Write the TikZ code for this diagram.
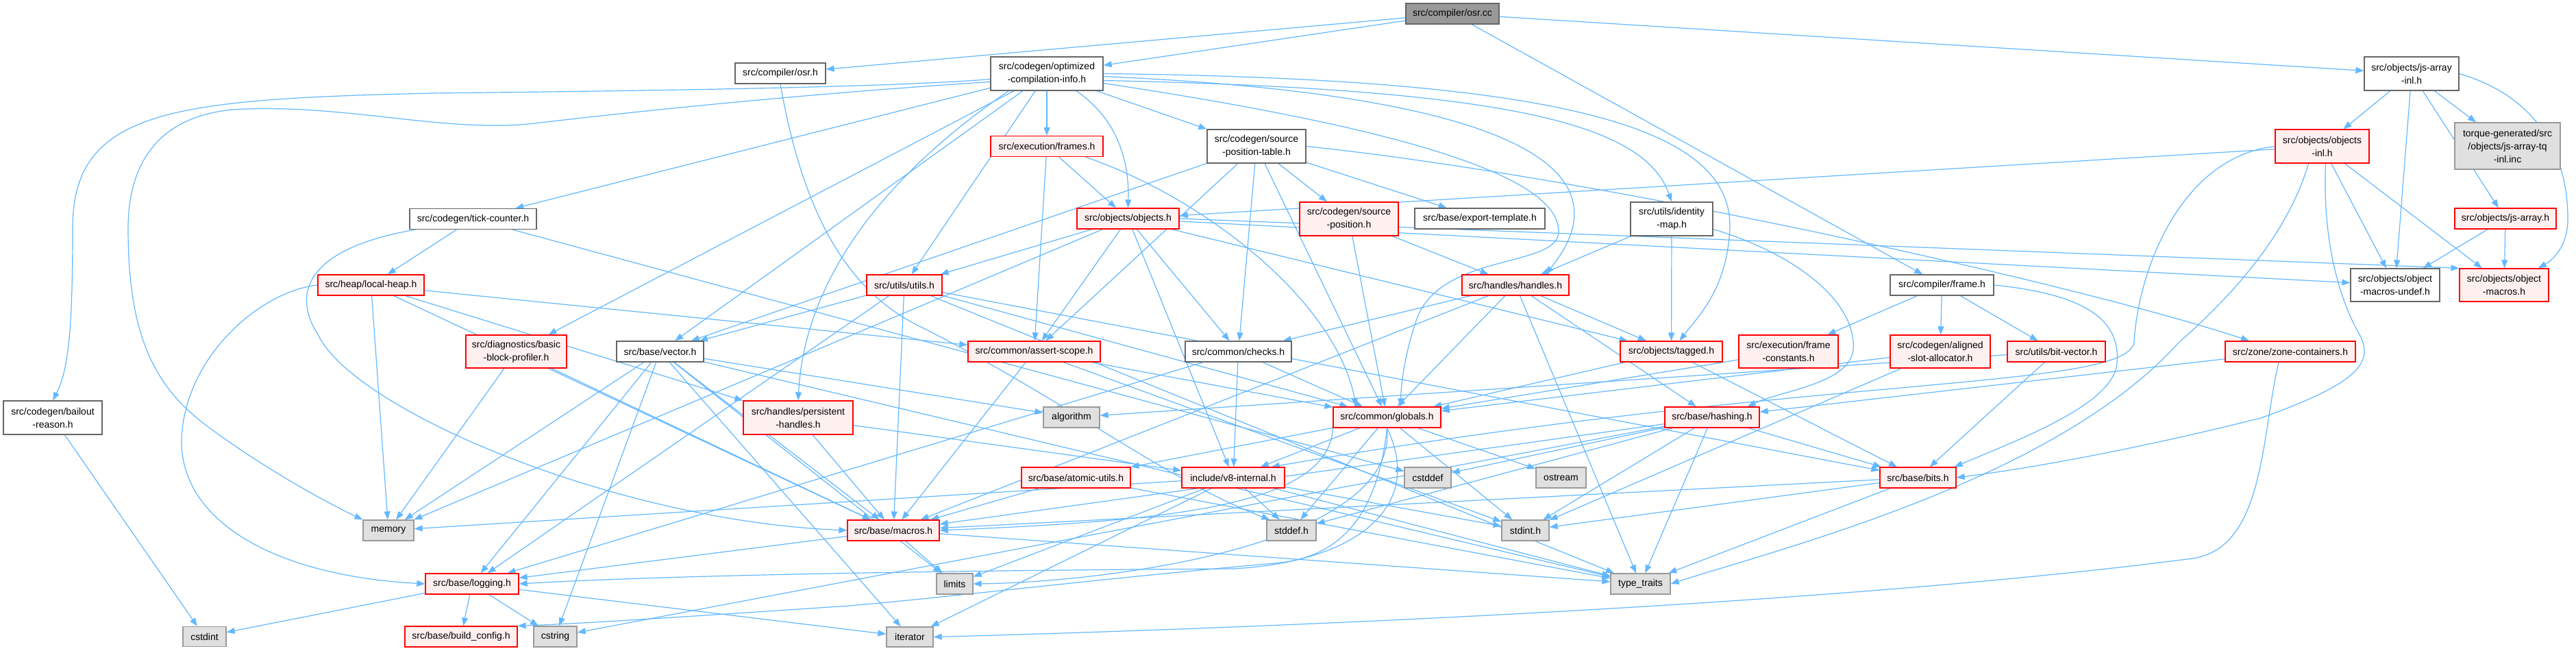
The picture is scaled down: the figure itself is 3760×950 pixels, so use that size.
\documentclass[tikz,border=0pt]{standalone}
\usepackage{fontspec}
\setmainfont{Liberation Sans}
\usetikzlibrary{arrows.meta,calc}
\definecolor{edgeblue}{HTML}{63B8FF}
\definecolor{redfill}{HTML}{FFF0F0}
\definecolor{grayfill}{HTML}{E0E0E0}
\definecolor{rootfill}{HTML}{999999}
\definecolor{bordergray}{HTML}{666666}
\definecolor{leafborder}{HTML}{999999}
\pgfdeclarelayer{background}
\pgfsetlayers{background,main}
\begin{document}
\begin{tikzpicture}[x=1pt,y=-1pt,
  box/.style={draw, rectangle, inner sep=0pt, align=center, font=\fontsize{14}{19}\selectfont, line width=1.3pt},
  wbox/.style={box, fill=white, draw=bordergray},
  rbox/.style={box, fill=redfill, draw=red},
  gbox/.style={box, fill=grayfill, draw=leafborder},
  rootbox/.style={box, fill=rootfill, draw=bordergray},
  edge/.style={draw=edgeblue, line width=1.2pt, -{Triangle[length=12pt,width=9pt]}},
]
\useasboundingbox (0,0) rectangle (3760,950);
% row 1
\node[rootbox,minimum width=136pt,minimum height=30pt] (osrcc) at (2120,20) {src/compiler/osr.cc};
% row 2
\node[wbox,minimum width=132pt,minimum height=30pt] (osrh) at (1139,107) {src/compiler/osr.h};
\node[wbox,minimum width=164pt,minimum height=49pt] (oci) at (1528,107.5) {src/codegen/optimized\\-compilation-info.h};
\node[wbox,minimum width=138pt,minimum height=49pt] (jsai) at (3520,107.5) {src/objects/js-array\\-inl.h};
% row 3
\node[rbox,minimum width=164pt,minimum height=30pt] (frames) at (1528,213.5) {src/execution/frames.h};
\node[wbox,minimum width=144pt,minimum height=49pt] (spt) at (1834,213.5) {src/codegen/source\\-position-table.h};
\node[rbox,minimum width=137pt,minimum height=49pt] (objinl) at (3389.5,213.5) {src/objects/objects\\-inl.h};
\node[gbox,minimum width=154pt,minimum height=68pt] (torque) at (3660,213) {torque-generated/src\\/objects/js-array-tq\\-inl.inc};
% row 4
\node[wbox,minimum width=185pt,minimum height=30pt] (tick) at (690.5,319.5) {src/codegen/tick-counter.h};
\node[rbox,minimum width=149pt,minimum height=30pt] (objects) at (1646.5,319) {src/objects/objects.h};
\node[rbox,minimum width=144pt,minimum height=49pt] (spos) at (1969,319.5) {src/codegen/source\\-position.h};
\node[wbox,minimum width=190pt,minimum height=30pt] (exptpl) at (2160,319) {src/base/export-template.h};
\node[wbox,minimum width=120pt,minimum height=49pt] (idmap) at (2440,319.5) {src/utils/identity\\-map.h};
\node[rbox,minimum width=148pt,minimum height=30pt] (jsarray) at (3657,319) {src/objects/js-array.h};
% row 5
\node[rbox,minimum width=155pt,minimum height=30pt] (localheap) at (541.5,416) {src/heap/local-heap.h};
\node[rbox,minimum width=110pt,minimum height=30pt] (utils) at (1320,416) {src/utils/utils.h};
\node[rbox,minimum width=156pt,minimum height=30pt] (handles) at (2212,416) {src/handles/handles.h};
\node[wbox,minimum width=151pt,minimum height=30pt] (frame) at (2834.5,416) {src/compiler/frame.h};
\node[wbox,minimum width=130pt,minimum height=48pt] (oundef) at (3496,416) {src/objects/object\\-macros-undef.h};
\node[rbox,minimum width=130pt,minimum height=48pt] (omacros) at (3655,416) {src/objects/object\\-macros.h};
% row 6
\node[rbox,minimum width=147pt,minimum height=48pt] (bbp) at (753.5,513) {src/diagnostics/basic\\-block-profiler.h};
\node[wbox,minimum width=127pt,minimum height=30pt] (vector) at (963.5,513) {src/base/vector.h};
\node[rbox,minimum width=193pt,minimum height=30pt] (assertscope) at (1509.5,513) {src/common/assert-scope.h};
\node[wbox,minimum width=155pt,minimum height=30pt] (checks) at (1807.5,513) {src/common/checks.h};
\node[rbox,minimum width=149pt,minimum height=30pt] (tagged) at (2439.5,513) {src/objects/tagged.h};
\node[rbox,minimum width=145pt,minimum height=48pt] (frameconst) at (2610.5,513) {src/execution/frame\\-constants.h};
\node[rbox,minimum width=146pt,minimum height=48pt] (aligned) at (2832,513) {src/codegen/aligned\\-slot-allocator.h};
\node[rbox,minimum width=143pt,minimum height=30pt] (bitvec) at (3001.5,513) {src/utils/bit-vector.h};
\node[rbox,minimum width=190pt,minimum height=30pt] (zone) at (3343,513) {src/zone/zone-containers.h};
% row 7
\node[wbox,minimum width=144pt,minimum height=49pt] (bailout) at (77,609.5) {src/codegen/bailout\\-reason.h};
\node[rbox,minimum width=160pt,minimum height=49pt] (phandles) at (1165,609.5) {src/handles/persistent\\-handles.h};
\node[gbox,minimum width=82pt,minimum height=30pt] (algorithm) at (1564,609) {algorithm};
\node[rbox,minimum width=157pt,minimum height=30pt] (globals) at (2024.5,609) {src/common/globals.h};
\node[rbox,minimum width=138pt,minimum height=30pt] (hashing) at (2499,609) {src/base/hashing.h};
% row 8
\node[rbox,minimum width=159pt,minimum height=30pt] (atomic) at (1570.5,697) {src/base/atomic-utils.h};
\node[rbox,minimum width=150pt,minimum height=30pt] (v8int) at (1800,697) {include/v8-internal.h};
\node[gbox,minimum width=68pt,minimum height=30pt] (cstddef) at (2084,697) {cstddef};
\node[gbox,minimum width=73pt,minimum height=30pt] (ostream) at (2278.5,697) {ostream};
\node[rbox,minimum width=111pt,minimum height=30pt] (bits) at (2799.5,697) {src/base/bits.h};
% row 9
\node[gbox,minimum width=74pt,minimum height=30pt] (memory) at (567,774) {memory};
\node[rbox,minimum width=134pt,minimum height=30pt] (macros) at (1304,774) {src/base/macros.h};
\node[gbox,minimum width=72pt,minimum height=30pt] (stddefh) at (1885,774) {stddef.h};
\node[gbox,minimum width=69pt,minimum height=30pt] (stdint) at (2226.5,774) {stdint.h};
% row 10
\node[rbox,minimum width=136pt,minimum height=30pt] (logging) at (689,852) {src/base/logging.h};
\node[gbox,minimum width=53pt,minimum height=30pt] (limits) at (1393.5,852) {limits};
\node[gbox,minimum width=87pt,minimum height=30pt] (typetraits) at (2394.5,852) {type\_traits};
% row 11
\node[gbox,minimum width=63pt,minimum height=29pt] (cstdint) at (298.5,929) {cstdint};
\node[rbox,minimum width=164pt,minimum height=30pt] (buildconfig) at (673,929) {src/base/build\_config.h};
\node[gbox,minimum width=63pt,minimum height=30pt] (cstring) at (810.5,929) {cstring};
\node[gbox,minimum width=68pt,minimum height=29pt] (iterator) at (1328,929.5) {iterator};

\begin{pgfonlayer}{background}
\fill[white] (0,0) rectangle (3760,950);
\foreach \a/\b in {osrcc/osrh, osrcc/oci, osrcc/frame, osrcc/jsai,
 oci/vector, oci/bbp, oci/tick, oci/utils, oci/frames, oci/spt,
 jsai/jsarray, jsai/objinl, jsai/torque, jsai/oundef,
 frame/aligned, frame/frameconst, frame/bitvec,
 bailout/cstdint, tick/localheap, tick/cstddef,
 localheap/memory, localheap/macros, localheap/assertscope, localheap/phandles,
 frames/objects, frames/assertscope,
 spt/spos, spt/exptpl, spt/checks, spt/globals, spt/vector, spt/assertscope,
 objects/utils, objects/assertscope, objects/v8int, objects/checks, objects/tagged, objects/oundef, objects/memory,
 spos/handles, spos/globals,
 idmap/handles, idmap/tagged,
 handles/checks, handles/globals, handles/tagged, handles/hashing, handles/macros, handles/typetraits,
 tagged/globals, tagged/bits,
 checks/logging, checks/v8int, checks/globals,
 assertscope/macros, assertscope/stdint, assertscope/globals,
 globals/v8int, globals/atomic, globals/stddefh, globals/stdint, globals/ostream,
 v8int/memory, v8int/iterator, v8int/limits, v8int/typetraits, v8int/stddefh, v8int/stdint,
 atomic/macros, atomic/typetraits,
 hashing/cstddef, hashing/bits, hashing/stdint, hashing/typetraits, hashing/macros, hashing/stddefh, hashing/cstring,
 bits/macros, bits/stdint, bits/typetraits,
 vector/algorithm, vector/cstring, vector/iterator, vector/limits, vector/memory, vector/typetraits, vector/logging, vector/macros,
 utils/vector, utils/macros, utils/typetraits, utils/globals, utils/bits, utils/logging,
 phandles/v8int, phandles/macros,
 bbp/memory, bbp/macros,
 logging/cstdint, logging/buildconfig, logging/cstring, logging/iterator,
 macros/limits, macros/typetraits, macros/logging,
 jsarray/oundef, jsarray/omacros,
 objinl/objects, objinl/oundef, objinl/omacros,
 zone/hashing,
 frameconst/globals, aligned/globals, aligned/stdint,
 bitvec/bits, bitvec/algorithm}
  \draw[edge] (\a) -- (\b);
% curved connectors
\draw[edge] ($(oci.west)+(0,8)$) .. controls (1300,128) and (900,133) .. (630,136) .. controls (250,145) and (106,160) .. (106,333) .. controls (106,480) and (100,540) .. (bailout.north);
\draw[edge] ($(oci.west)+(0,12)$) .. controls (1200,135) and (950,160) .. (780,180) .. controls (650,195) and (500,150) .. (340,160) .. controls (230,170) and (187,240) .. (187,333) .. controls (187,480) and (220,560) .. (300,620) .. controls (380,680) and (470,730) .. (memory.north west);
\draw[edge] ($(oci.south west)+(27,0)$) .. controls (1300,250) and (1175,400) .. (phandles.north);
\draw[edge] ($(oci.south)+(43,0)$) .. controls (1640,180) and (1648,250) .. (objects.north);
\draw[edge] ($(oci.east)+(0,4)$) .. controls (2250,140) and (2370,260) .. ($(handles.north)+(44,0)$);
\draw[edge] ($(oci.east)+(0,10)$) .. controls (2200,130) and (2400,180) .. (idmap.north);
\draw[edge] (oci.east) .. controls (2300,115) and (2525,190) .. (2525,330) .. controls (2522,420) and (2480,460) .. ($(tagged.north)+(12,0)$);
\draw[edge] ($(oci.east)+(0,14)$) .. controls (2000,180) and (2280,250) .. (2275,340) .. controls (2270,390) and (2110,370) .. (2070,460) .. controls (2055,500) and (2045,550) .. ($(globals.north)+(20,0)$);
\draw[edge] (jsai.east) .. controls (3700,140) and (3748,220) .. (3748,320) .. controls (3748,360) and (3725,380) .. ($(omacros.north)+(50,0)$);
\draw[edge] (frame.east) .. controls (3050,430) and (3095,470) .. (3090,530) .. controls (3085,590) and (2950,640) .. ($(bits.north east)+(-3,0)$);
\draw[edge] ($(tick.south west)+(9,0)$) .. controls (460,360) and (420,420) .. (465,490) .. controls (520,600) and (900,760) .. (macros.west);
\draw[edge] (localheap.west) .. controls (380,425) and (270,520) .. (265,640) .. controls (262,760) and (400,840) .. (logging.west);
\draw[edge] ($(frames.south east)+(-26,0)$) .. controls (1760,290) and (1950,440) .. ($(globals.north)+(-45,0)$);
\draw[edge] (spt.east) .. controls (2350,260) and (3050,420) .. ($(zone.north)+(-60,0)$);
\draw[edge] ($(idmap.east)+(0,15)$) .. controls (2620,370) and (2710,440) .. (2705,510) .. controls (2700,560) and (2600,570) .. ($(hashing.north east)+(-18,0)$);
\draw[edge] (globals.south) .. controls (2010,760) and (1950,815) .. (1860,822) .. controls (1600,845) and (1400,870) .. (1240,884) .. controls (1000,900) and (850,910) .. (buildconfig.north east);
\draw[edge] (globals.south) .. controls (2080,740) and (1980,820) .. (1800,830) .. controls (1450,832) and (1000,838) .. (logging.east);
\draw[edge] (globals.south) .. controls (2040,800) and (1600,850) .. (limits.east);
\draw[edge] (globals.south west) .. controls (1940,740) and (1700,760) .. (macros.east);
\draw[edge] (objects.east) -- (omacros.north west);
\draw[edge] ($(objinl.south)+(5,0)$) .. controls (3390,340) and (3410,430) .. (3445,490) .. controls (3465,530) and (3440,560) .. (3300,610) .. controls (3100,660) and (2950,685) .. (bits.east);
\draw[edge] ($(objinl.south)+(-20,0)$) .. controls (3340,340) and (3260,430) .. (3180,500) .. controls (3000,700) and (2600,800) .. (typetraits.east);
\draw[edge] (objinl.west) .. controls (3180,230) and (3120,400) .. (3115,500) .. controls (3100,570) and (2650,545) .. ($(v8int.north east)+(-20,0)$);
\draw[edge] ($(zone.south)+(-17,0)$) .. controls (3300,640) and (3305,800) .. (3200,815) .. controls (2700,880) and (1900,915) .. (iterator.east);
\draw[edge] (osrh.south) .. controls (1170,300) and (1230,420) .. (1340,475) .. controls (1550,580) and (1700,700) .. ($(stddefh.north west)+(5,0)$);
\end{pgfonlayer}
\end{tikzpicture}
\end{document}
